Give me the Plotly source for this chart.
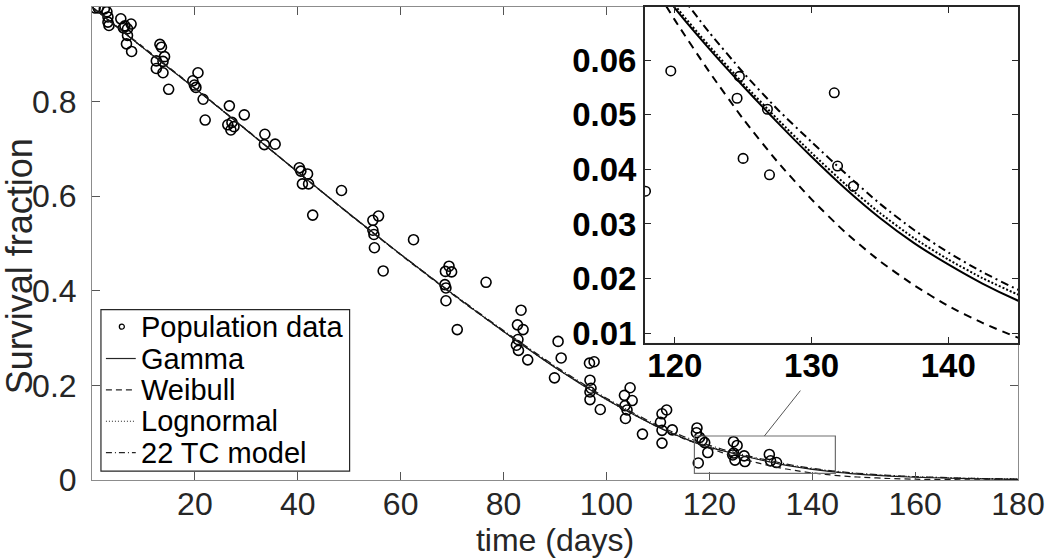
import plotly.graph_objects as go

# ---------------- data ----------------
days = [0.6, 1.2, 2.4, 2.9, 3.1, 3.1, 3.3, 5.6, 6.1, 6.4, 6.9, 7.6, 6.9, 6.7, 7.7,
        13.2, 13.5, 14.1, 12.5, 13.8, 12.5, 13.8, 14.9,
        19.6, 19.9, 20.2, 20.6, 21.6, 22.0,
        26.7, 26.4, 27.6, 27.0, 27.2, 29.6, 33.6, 33.5, 35.6,
        40.3, 40.6, 41.9, 40.9, 42.1, 48.5, 42.9,
        55.7, 54.6, 54.6, 54.8, 54.9, 56.6, 62.5,
        69.4, 68.7, 69.9, 68.6, 68.8, 68.8, 71.0, 76.6,
        83.4, 82.7, 83.8, 82.8, 82.5, 82.9, 84.7,
        90.6, 91.2, 89.9, 96.7, 97.6, 96.8, 97.0, 96.8, 96.8, 98.8,
        104.6, 103.5, 105.0, 103.6, 104.0, 103.7, 107.0,
        111.7, 110.8, 110.5, 110.8, 112.8, 110.8,
        117.6, 117.5, 118.1, 118.6, 119.1, 119.7, 117.85,
        124.7, 125.4, 124.72, 124.55, 124.99, 126.77, 126.92,
        131.66, 131.9, 133.06]
survival = [0.998, 0.998, 0.996, 0.990, 0.979, 0.968, 0.961, 0.975, 0.956, 0.960, 0.954, 0.964, 0.940, 0.922, 0.906,
            0.921, 0.915, 0.895, 0.886, 0.885, 0.870, 0.861, 0.826,
            0.844, 0.835, 0.830, 0.861, 0.805, 0.761,
            0.791, 0.751, 0.747, 0.740, 0.756, 0.772, 0.731, 0.709, 0.710,
            0.660, 0.653, 0.647, 0.626, 0.626, 0.612, 0.560,
            0.558, 0.549, 0.528, 0.519, 0.491, 0.442, 0.508,
            0.452, 0.441, 0.440, 0.413, 0.406, 0.379, 0.318, 0.418,
            0.359, 0.328, 0.318, 0.297, 0.285, 0.274, 0.254,
            0.293, 0.258, 0.216, 0.247, 0.250, 0.211, 0.194, 0.186, 0.170, 0.149,
            0.195, 0.179, 0.168, 0.157, 0.148, 0.130, 0.097,
            0.148, 0.140, 0.122, 0.105, 0.106, 0.078,
            0.110, 0.100, 0.090, 0.084, 0.079, 0.058, 0.036,
            0.081, 0.073, 0.057, 0.053, 0.042, 0.051, 0.039,
            0.054, 0.0406, 0.0369]

t_fit = [0, 10, 20, 30, 40, 50, 60, 70, 80, 90, 100, 105, 110, 115, 117.5, 120, 122.5, 125,
         127.5, 130, 132.5, 135, 137.5, 140, 142.5, 145, 147.5, 150, 155, 160, 170, 180]
gamma_fit = [1.000, 0.913, 0.828, 0.740, 0.651, 0.563, 0.477, 0.394, 0.314, 0.238, 0.170, 0.140, 0.112,
             0.0885, 0.0781, 0.0695, 0.0621, 0.0552, 0.0486, 0.0423, 0.0364, 0.0311, 0.0265, 0.0226,
             0.0191, 0.0161, 0.0136, 0.0115, 0.0082, 0.0058, 0.0029, 0.0014]
weibull_fit = [1.000, 0.915, 0.829, 0.741, 0.651, 0.562, 0.476, 0.393, 0.314, 0.239, 0.171, 0.141, 0.112,
               0.0876, 0.0775, 0.0673, 0.0579, 0.0492, 0.0414, 0.0345, 0.0284, 0.0232, 0.0188, 0.0150,
               0.0119, 0.0093, 0.0073, 0.0056, 0.0032, 0.0017, 0.0004, 0.0001]
lognormal_fit = [1.000, 0.913, 0.828, 0.740, 0.651, 0.563, 0.477, 0.394, 0.314, 0.238, 0.170, 0.140, 0.112,
                 0.0890, 0.0786, 0.0700, 0.0626, 0.0557, 0.0492, 0.0430, 0.0372, 0.0320, 0.0274, 0.0235,
                 0.0201, 0.0172, 0.0147, 0.0126, 0.0092, 0.0068, 0.0037, 0.0020]
tc22_fit = [1.000, 0.913, 0.828, 0.740, 0.651, 0.563, 0.477, 0.395, 0.316, 0.241, 0.173, 0.143, 0.115,
            0.0921, 0.0823, 0.0733, 0.0651, 0.0577, 0.0510, 0.0450, 0.0392, 0.0337, 0.0289, 0.0248,
            0.0212, 0.0181, 0.0155, 0.0133, 0.0098, 0.0072, 0.0038, 0.0020]

series_names = ["Population data", "Gamma", "Weibull", "Lognormal", "22 TC model"]
main_xticks = [20, 40, 60, 80, 100, 120, 140, 160, 180]
main_yticks = [0, 0.2, 0.4, 0.6, 0.8]
main_yticktext = ["0", "0.2", "0.4", "0.6", "0.8"]
inset_xticks = [120, 130, 140]
inset_yticks = [0.01, 0.02, 0.03, 0.04, 0.05, 0.06]
inset_yticktext = ["0.01", "0.02", "0.03", "0.04", "0.05", "0.06"]

FONT = "Liberation Sans, Arial, Helvetica, sans-serif"
fits = [gamma_fit, weibull_fit, lognormal_fit, tc22_fit]
main_dash = ["solid", "6px,4px", "1px,2px", "7px,3px,1px,3px"]
inset_dash = ["solid", "8px,6px", "2px,2px", "8px,4px,2px,4px"]

fig = go.Figure()

# main panel
fig.add_trace(go.Scatter(x=days, y=survival, mode="markers", name=series_names[0],
                         marker=dict(symbol="circle-open", size=10, color="black",
                                     line=dict(width=1.6, color="black")),
                         xaxis="x", yaxis="y", showlegend=False))
for name, vals, d in zip(series_names[1:], fits, main_dash):
    fig.add_trace(go.Scatter(x=t_fit, y=vals, mode="lines", name=name,
                             line=dict(color="#1a1a1a", width=1.2, dash=d, shape="spline", smoothing=0.6),
                             xaxis="x", yaxis="y", showlegend=False))

# inset panel
fig.add_trace(go.Scatter(x=days, y=survival, mode="markers", name=series_names[0],
                         marker=dict(symbol="circle-open", size=9.5, color="black",
                                     line=dict(width=1.6, color="black")),
                         xaxis="x2", yaxis="y2", showlegend=False))
for name, vals, d in zip(series_names[1:], fits, inset_dash):
    fig.add_trace(go.Scatter(x=t_fit, y=vals, mode="lines", name=name,
                             line=dict(color="black", width=2, dash=d, shape="spline", smoothing=0.6),
                             xaxis="x2", yaxis="y2", showlegend=False))

axis_common = dict(showgrid=False, zeroline=False, showline=True, mirror="ticks",
                   ticks="inside")

fig.update_layout(
    width=1050, height=558,
    margin=dict(l=92, r=27, t=5, b=78),
    paper_bgcolor="white", plot_bgcolor="white",
    font=dict(family=FONT, color="#262626"),
    xaxis=dict(domain=[0, 1], range=[0, 180], tickvals=main_xticks, anchor="y",
               linecolor="#8c8c8c", linewidth=1, ticklen=8, tickcolor="#555",
               tickfont=dict(size=32, color="#262626"), ticklabelstandoff=-4,
               title=dict(text="time (days)", font=dict(size=32, color="#262626"), standoff=0),
               **axis_common),
    yaxis=dict(domain=[0, 1], range=[0, 1], tickvals=main_yticks, ticktext=main_yticktext, anchor="x",
               linecolor="#8c8c8c", linewidth=1, ticklen=8, tickcolor="#555",
               tickfont=dict(size=32, color="#262626"), ticklabelstandoff=8,
               **axis_common),
    xaxis2=dict(domain=[0.597, 1.0], range=[117.8, 145.1], tickvals=inset_xticks, anchor="y2",
                linecolor="#262626", linewidth=1.5, ticklen=6, tickcolor="#262626",
                tickfont=dict(size=33, color="black", weight="bold"), ticklabelstandoff=-7,
                **axis_common),
    yaxis2=dict(domain=[0.2905, 1.0], range=[0.0083, 0.0697], tickvals=inset_yticks,
                ticktext=inset_yticktext, anchor="x2",
                linecolor="#262626", linewidth=1.5, ticklen=6, tickcolor="#262626",
                tickfont=dict(size=33, color="black", weight="bold"), ticklabelstandoff=0,
                **axis_common),
    showlegend=False,
)

shapes = []
# inset background
shapes.append(dict(type="rect", xref="x2 domain", yref="y2 domain", x0=0, x1=1, y0=0, y1=1,
                   fillcolor="#e8e8e8", line=dict(width=0), layer="below"))
# zoom rectangle and connector on main axes
shapes.append(dict(type="rect", xref="x", yref="y", x0=117.1, x1=144.5, y0=0.014, y1=0.093,
                   line=dict(color="#6e6e6e", width=1.2), layer="above"))
shapes.append(dict(type="line", xref="x", yref="y", x0=130.7, y0=0.093, x1=137.7, y1=0.189,
                   line=dict(color="#555", width=1)))

# legend (drawn manually to match the compact MATLAB legend)
W, H, L, B = 931.0, 475.0, 92.0, 480.0
def px(xp): return (xp - L) / W
def py(yp): return (B - yp) / H

shapes.append(dict(type="rect", xref="paper", yref="paper", x0=px(101), x1=px(351),
                   y0=py(471), y1=py(309), line=dict(color="#262626", width=1.2),
                   fillcolor="white", layer="above"))
row_y = [326, 358, 389.5, 421, 452.5]
legend_dash = ["solid", "6px,4px", "1px,2px", "6px,3px,1px,3px"]
shapes.append(dict(type="circle", xref="paper", yref="paper",
                   x0=px(119.5), x1=px(124.5), y0=py(row_y[0] + 2.5), y1=py(row_y[0] - 2.5),
                   line=dict(color="black", width=1.3)))
for ry, d in zip(row_y[1:], legend_dash):
    shapes.append(dict(type="line", xref="paper", yref="paper", x0=px(106), x1=px(136),
                       y0=py(ry), y1=py(ry), line=dict(color="#262626", width=1.2, dash=d)))

annotations = []
for ry, name in zip(row_y, series_names):
    annotations.append(dict(text=name, xref="paper", yref="paper", x=px(139), y=py(ry),
                            xanchor="left", yanchor="middle", showarrow=False,
                            font=dict(size=29, color="black", family=FONT)))
annotations.append(dict(text="Survival fraction", xref="paper", yref="paper", x=px(20), y=py(265),
                        xanchor="center", yanchor="middle", textangle=-90, showarrow=False,
                        font=dict(size=36, color="#262626", family=FONT)))

fig.update_layout(shapes=shapes, annotations=annotations)

fig.write_html("out.html", config={"displayModeBar": False},
               post_script="document.body.style.margin='0px';document.body.style.overflow='hidden';")
